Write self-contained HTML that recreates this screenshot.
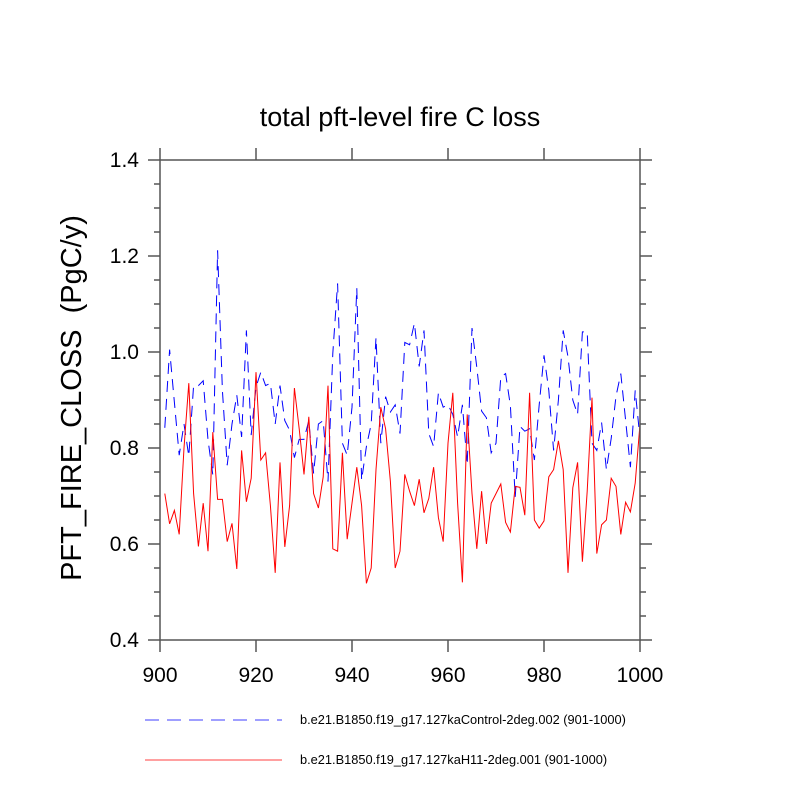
<!DOCTYPE html>
<html><head><meta charset="utf-8"><style>
html,body{margin:0;padding:0;background:#fff;}
svg text{font-family:"Liberation Sans",sans-serif;fill:#000;white-space:pre;}
</style></head><body>
<svg id="chart" width="800" height="800" xmlns="http://www.w3.org/2000/svg" xml:space="preserve">
<text x="400" y="126" font-size="27" text-anchor="middle">total pft-level fire C loss</text>
<text transform="translate(81,398) rotate(-90)" font-size="29" text-anchor="middle">PFT_FIRE_CLOSS  (PgC/y)</text>
<g id="marks"></g>
<g id="axes"></g>
<line x1="145" y1="720" x2="282" y2="720" stroke="#0000ff" stroke-width="0.8" stroke-dasharray="14,8"/>
<text x="300" y="724" font-size="12.8">b.e21.B1850.f19_g17.127kaControl-2deg.002 (901-1000)</text>
<line x1="145" y1="760" x2="282" y2="760" stroke="#ff0000" stroke-width="0.8"/>
<text x="300" y="764" font-size="12.8">b.e21.B1850.f19_g17.127kaH11-2deg.001 (901-1000)</text>
</svg>
<script>
const years=[];for(let y=901;y<=1000;y++)years.push(y);
const controlValues=[0.842,1.005,0.895,0.785,0.85,0.783,0.93,0.93,0.94,0.817,0.744,1.212,0.92,0.764,0.85,0.91,0.823,1.045,0.827,0.927,0.958,0.93,0.935,0.85,0.93,0.857,0.837,0.78,0.818,0.818,0.857,0.747,0.85,0.857,0.73,0.997,1.143,0.81,0.785,0.885,1.133,0.733,0.803,0.85,1.03,0.81,0.907,0.875,0.89,0.83,1.02,1.015,1.06,0.97,1.045,0.83,0.803,0.915,0.885,0.89,0.87,0.823,0.89,0.765,1.05,0.968,0.877,0.863,0.79,0.81,0.948,0.955,0.888,0.698,0.845,0.835,0.84,0.775,0.89,0.993,0.92,0.795,0.9,1.045,0.99,0.9,0.87,1.042,1.042,0.81,0.795,0.853,0.755,0.82,0.908,0.955,0.858,0.76,0.92,0.82];
const h11Values=[0.705,0.642,0.67,0.62,0.8,0.935,0.705,0.595,0.685,0.585,0.833,0.693,0.693,0.605,0.643,0.548,0.795,0.688,0.737,0.958,0.775,0.79,0.68,0.54,0.77,0.594,0.68,0.925,0.84,0.745,0.865,0.705,0.675,0.74,0.93,0.59,0.585,0.79,0.61,0.685,0.76,0.68,0.518,0.55,0.755,0.885,0.84,0.73,0.55,0.585,0.745,0.71,0.68,0.735,0.665,0.695,0.76,0.655,0.605,0.81,0.915,0.685,0.52,0.87,0.705,0.59,0.71,0.6,0.685,0.705,0.725,0.645,0.625,0.72,0.718,0.66,0.915,0.65,0.633,0.648,0.74,0.755,0.815,0.755,0.54,0.717,0.77,0.563,0.71,0.905,0.58,0.64,0.65,0.737,0.72,0.62,0.687,0.667,0.727,0.85];
const xTicks=[900,920,940,960,980,1000];
const yTicks=[0.4,0.6,0.8,1.0,1.2,1.4];
const yTickLabels=["0.4","0.6","0.8","1.0","1.2","1.4"];
const X0=160,X1=640,Y0=640,Y1=160;
const xs=v=>X0+(v-900)/(1000-900)*(X1-X0);
const ys=v=>Y0-(v-0.4)/(1.4-0.4)*(Y0-Y1);
const NS="http://www.w3.org/2000/svg";
function mk(tag,attrs,parent){const e=document.createElementNS(NS,tag);for(const k in attrs)e.setAttribute(k,attrs[k]);parent.appendChild(e);return e;}
const marks=document.getElementById('marks');
const axes=document.getElementById('axes');
const ctrl=mk('polyline',{points:years.map((y,i)=>xs(y)+','+ys(controlValues[i])).join(' '),fill:'none',stroke:'#0000ff','stroke-width':1,'stroke-dasharray':'11,7'},marks);


const h11=mk('polyline',{points:years.map((y,i)=>xs(y)+','+ys(h11Values[i])).join(' '),fill:'none',stroke:'#ff0000','stroke-width':1},marks);


const frame=mk('rect',{x:X0,y:Y1,width:X1-X0,height:Y0-Y1,fill:'none',stroke:'#555','stroke-width':1.5},axes);


xTicks.forEach(t=>{
  const x=xs(t);
  mk('line',{x1:x,y1:Y0,x2:x,y2:Y0+12,stroke:'#555','stroke-width':1.5},axes);
  mk('line',{x1:x,y1:Y1,x2:x,y2:Y1-12,stroke:'#555','stroke-width':1.5},axes);
  const lb=mk('text',{x:x,y:Y0+42,'font-size':21,'text-anchor':'middle'},axes);
  lb.textContent=t;
  
  
});
for(let v=0.4;v<=1.4001;v+=0.05){
  const y=ys(v);const major=Math.abs(Math.round(v*5)-v*5)<1e-6;const L=major?12:6;
  mk('line',{x1:X0,y1:y,x2:X0-L,y2:y,stroke:'#555','stroke-width':1.5},axes);
  mk('line',{x1:X1,y1:y,x2:X1+L,y2:y,stroke:'#555','stroke-width':1.5},axes);
}
yTicks.forEach((t,i)=>{
  const lb=mk('text',{x:X0-21,y:ys(t)+7,'font-size':21,'text-anchor':'end'},axes);
  lb.textContent=yTickLabels[i];
  
  
});
</script>
</body></html>
